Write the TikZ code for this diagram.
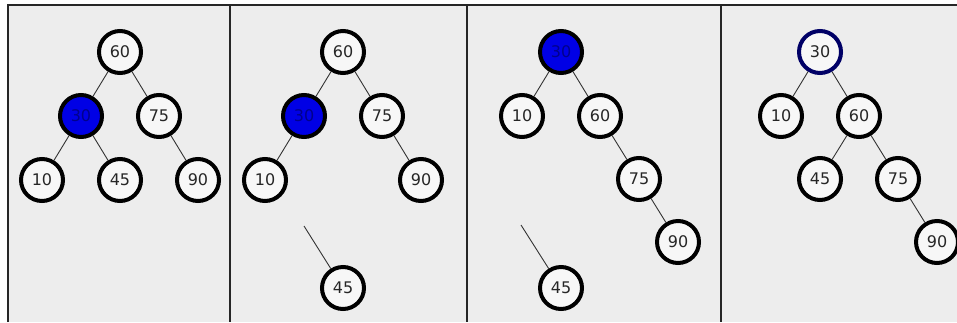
\documentclass[tikz,border=0pt]{standalone}
\usepackage{fontspec}
\setmainfont{DejaVu Sans}
\begin{document}
\begin{tikzpicture}[x=1pt,y=-1pt,
  key/.style={circle, draw=black, line width=4pt, fill=white!97!black,
    minimum size=42pt, inner sep=0pt, text=black!85,
    font=\fontsize{16}{16}\selectfont},
  hot/.style={key, fill=blue!90!black, text=blue!55!black},
  ring/.style={key, draw=blue!40!black},
  link/.style={draw=black!80, line width=0.9pt},
  frame/.style={draw=black!85, line width=1.8pt}]
\definecolor{panelgray}{HTML}{EDEDED}
\useasboundingbox (0,0) rectangle (957,322);
\fill[white] (0,0) rectangle (957,322);
\fill[panelgray] (8,5) rectangle (957,322);
% panel borders
\draw[frame] (8,322) -- (8,5) -- (957,5);
\foreach \px in {230,467,721} \draw[frame] (\px,5) -- (\px,322);

% ---- panel 1: before rotation
\node[key] (a60) at (120,52) {60};
\node[hot] (a30) at (81,116) {30};
\node[key] (a75) at (159,116) {75};
\node[key] (a10) at (42,180) {10};
\node[key] (a45) at (120,180) {45};
\node[key] (a90) at (198,180) {90};

% ---- panel 2: 45 detached
\node[key] (b60) at (343,52) {60};
\node[hot] (b30) at (304,116) {30};
\node[key] (b75) at (382,116) {75};
\node[key] (b10) at (265,180) {10};
\node[key] (b90) at (421,180) {90};
\node[key] (b45) at (343,288) {45};
\coordinate (bfree) at (304,226);

% ---- panel 3: 30 lifted to the root
\node[hot] (c30) at (561,52) {30};
\node[key] (c10) at (522,116) {10};
\node[key] (c60) at (600,116) {60};
\node[key] (c75) at (639,179) {75};
\node[key] (c90) at (678,242) {90};
\node[key] (c45) at (561,288) {45};
\coordinate (cfree) at (521,225);

% ---- panel 4: 45 reattached under 60
\node[ring] (d30) at (820,52) {30};
\node[key] (d10) at (781,116) {10};
\node[key] (d60) at (859,116) {60};
\node[key] (d45) at (820,179) {45};
\node[key] (d75) at (898,179) {75};
\node[key] (d90) at (937,242) {90};

% tree edges
\draw[link] (a60) -- (a30) (a60) -- (a75) (a30) -- (a10) (a30) -- (a45) (a75) -- (a90);
\draw[link] (b60) -- (b30) (b60) -- (b75) (b30) -- (b10) (b75) -- (b90) (bfree) -- (b45);
\draw[link] (c30) -- (c10) (c30) -- (c60) (c60) -- (c75) (c75) -- (c90) (cfree) -- (c45);
\draw[link] (d30) -- (d10) (d30) -- (d60) (d60) -- (d45) (d60) -- (d75) (d75) -- (d90);
\end{tikzpicture}
\end{document}
